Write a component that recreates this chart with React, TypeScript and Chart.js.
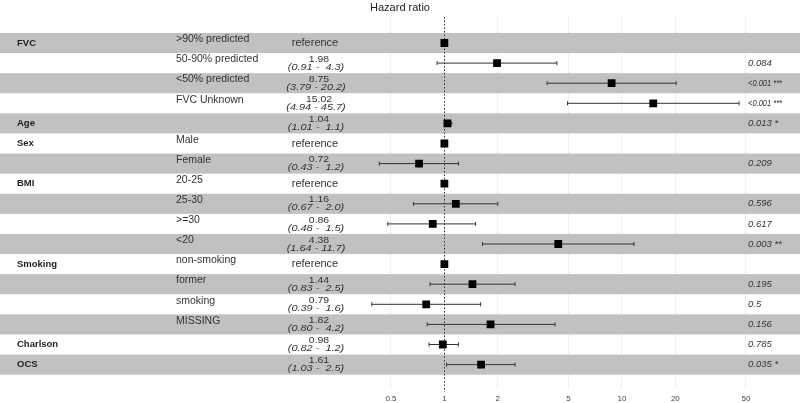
import React, { useEffect, useRef } from 'react';
import { Chart, registerables } from 'chart.js';

Chart.register(...registerables);

const groups = ['FVC', '', '', '', 'Age', 'Sex', '', 'BMI', '', '', '', 'Smoking', '', '', '', 'Charlson', 'OCS'];
const subLabels = ['>90% predicted', '50-90% predicted', '<50% predicted', 'FVC Unknown', '', 'Male', 'Female', '20-25', '25-30', '>=30', '<20', 'non-smoking', 'former', 'smoking', 'MISSING', '', ''];
const estimates = [1, 1.98, 8.75, 15.02, 1.04, 1, 0.72, 1, 1.16, 0.86, 4.38, 1, 1.44, 0.79, 1.82, 0.98, 1.61];
const lower = [null, 0.91, 3.79, 4.94, 1.01, null, 0.43, null, 0.67, 0.48, 1.64, null, 0.83, 0.39, 0.80, 0.82, 1.03];
const upper = [null, 4.3, 20.2, 45.7, 1.1, null, 1.2, null, 2.0, 1.5, 11.7, null, 2.5, 1.6, 4.2, 1.2, 2.5];
const estLabels = ['reference', '1.98', '8.75', '15.02', '1.04', 'reference', '0.72', 'reference', '1.16', '0.86', '4.38', 'reference', '1.44', '0.79', '1.82', '0.98', '1.61'];
const ciLabels = ['', '(0.91 -  4.3)', '(3.79 - 20.2)', '(4.94 - 45.7)', '(1.01 -  1.1)', '', '(0.43 -  1.2)', '', '(0.67 -  2.0)', '(0.48 -  1.5)', '(1.64 - 11.7)', '', '(0.83 -  2.5)', '(0.39 -  1.6)', '(0.80 -  4.2)', '(0.82 -  1.2)', '(1.03 -  2.5)'];
const pValues = ['', '0.084', '<0.001 ***', '<0.001 ***', '0.013 *', '', '0.209', '', '0.596', '0.617', '0.003 **', '', '0.195', '0.5', '0.156', '0.785', '0.035 *'];
const xTicks = [0.5, 1, 2, 5, 10, 20, 50];
const title = 'Hazard ratio';

const FONT = '"Liberation Sans", Arial, Helvetica, sans-serif';

function drawText(ctx: CanvasRenderingContext2D, text: string, x: number, y: number, font: string, align: CanvasTextAlign, sx: number, color: string, maxWidth?: number) {
  if (!text) return;
  ctx.save();
  ctx.translate(x, y);
  ctx.scale(sx, 1);
  ctx.font = font;
  ctx.fillStyle = color;
  ctx.textAlign = align;
  ctx.textBaseline = 'middle';
  if (maxWidth) ctx.fillText(text, 0, 0, maxWidth / sx);
  else ctx.fillText(text, 0, 0);
  ctx.restore();
}

const forestPlugin = {
  id: 'forest',
  beforeDatasetsDraw(chart: any) {
    const { ctx, chartArea, scales } = chart;
    const y = scales.y;
    const x = scales.x;
    ctx.save();
    ctx.fillStyle = '#c1c1c1';
    for (let i = 0; i < estimates.length; i += 2) {
      const t = y.getPixelForValue(i - 0.5);
      const b = y.getPixelForValue(i + 0.5);
      ctx.fillRect(0, t, chart.width, b - t);
    }
    const px = Math.round(x.getPixelForValue(1)) + 0.5;
    ctx.strokeStyle = '#333333';
    ctx.lineWidth = 1;
    ctx.setLineDash([1.5, 2]);
    ctx.beginPath();
    ctx.moveTo(px, chartArea.top);
    ctx.lineTo(px, chartArea.bottom + 3);
    ctx.stroke();
    ctx.restore();
  },
  afterDraw(chart: any) {
    const { ctx, scales } = chart;
    const y = scales.y;
    drawText(ctx, title, 400, 8, `11px ${FONT}`, 'center', 1, '#222222');
    for (let i = 0; i < estimates.length; i++) {
      const c = y.getPixelForValue(i);
      drawText(ctx, groups[i], 17, c, `bold 9.5px ${FONT}`, 'left', 1, '#1e1e1e');
      drawText(ctx, subLabels[i], 176, c - 3.5, `10px ${FONT}`, 'left', 1.05, '#333333');
      if (estLabels[i] === 'reference') {
        drawText(ctx, 'reference', 315, c + 0.5, `10px ${FONT}`, 'center', 1.1, '#333333');
      } else {
        drawText(ctx, estLabels[i], 319, c - 4, `9.5px ${FONT}`, 'center', 1.1, '#333333');
        drawText(ctx, ciLabels[i], 316, c + 4, `italic 9.5px ${FONT}`, 'center', 1.15, '#333333');
      }
      drawText(ctx, pValues[i], 748, c, `italic 9.5px ${FONT}`, 'left', 1, '#333333', 34);
    }
  },
};

export default function App() {
  const ref = useRef<HTMLCanvasElement>(null);
  useEffect(() => {
    if (!ref.current) return;
    const squares = {
      type: 'scatter' as const,
      data: estimates.map((e, i) => ({ x: e, y: i })),
      pointStyle: 'rect',
      pointRadius: 5.5,
      pointHoverRadius: 5.5,
      backgroundColor: '#000000',
      borderColor: '#000000',
      borderWidth: 0,
      showLine: false,
    };
    const ciSets = estimates
      .map((_, i) => i)
      .filter((i) => lower[i] !== null)
      .map((i) => ({
        type: 'line' as const,
        data: [
          { x: lower[i] as number, y: i },
          { x: upper[i] as number, y: i },
        ],
        borderColor: '#333333',
        borderWidth: 1,
        pointStyle: 'line',
        rotation: 90,
        pointRadius: 2,
        pointBorderColor: '#333333',
        pointBorderWidth: 1,
        fill: false,
        tension: 0,
      }));
    const chart = new Chart(ref.current, {
      type: 'scatter',
      data: { datasets: [squares as any, ...(ciSets as any[])] },
      options: {
        animation: false,
        responsive: false,
        layout: { padding: { top: 17, left: 0, right: 0, bottom: 0 } },
        plugins: {
          legend: { display: false },
          tooltip: { enabled: false },
          title: { display: false },
        },
        scales: {
          x: {
            type: 'logarithmic',
            min: Math.pow(10, -445 / 180),
            max: Math.pow(10, 355 / 180),
            afterBuildTicks: (scale: any) => {
              scale.ticks = xTicks.map((v) => ({ value: v }));
            },
            afterFit: (scale: any) => {
              scale.height = 14;
            },
            grid: {
              display: true,
              color: '#d9d9d9',
              lineWidth: 1,
              drawTicks: false,
              tickLength: 0,
            },
            border: { display: false, dash: [1, 1.5] },
            ticks: {
              autoSkip: false,
              maxRotation: 0,
              padding: 5,
              color: '#444444',
              font: { family: FONT, size: 8 },
              callback: (v: any) => String(v),
            },
          },
          y: {
            type: 'linear',
            display: false,
            reverse: true,
            min: -1.2935,
            max: 17.214,
          },
        },
      } as any,
      plugins: [forestPlugin],
    });
    return () => chart.destroy();
  }, []);
  return (
    <div style={{ position: 'fixed', left: 0, top: 0, width: 800, height: 403, background: '#ffffff' }}>
      <canvas ref={ref} width={800} height={403} style={{ display: 'block', width: 800, height: 403 }} />
    </div>
  );
}
